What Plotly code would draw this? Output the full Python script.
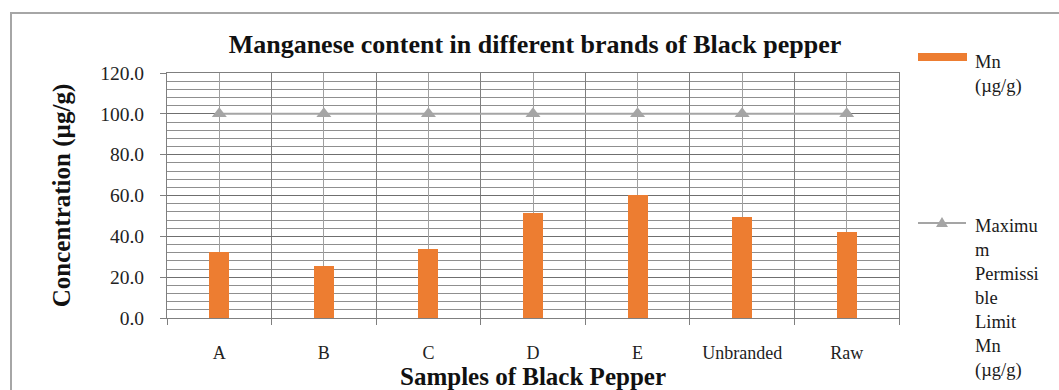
import plotly.graph_objects as go

# Sample data: manganese content per black-pepper sample
samples = ["A", "B", "C", "D", "E", "Unbranded", "Raw"]
mn_values = [32.5, 25.6, 33.8, 51.2, 60.3, 49.6, 42.3]
max_limit = [100.0, 100.0, 100.0, 100.0, 100.0, 100.0, 100.0]

bar_name = "Mn<br>(µg/g)"
line_name = "Maximu<br>m<br>Permissi<br>ble<br>Limit<br>Mn<br>(µg/g)"

ORANGE = "#ED7D31"
GREY = "#A5A5A5"
SERIF = "Liberation Serif, Times New Roman, serif"

# Canvas and plot-area geometry in pixels
W, H = 1059, 390
L, R, T, B = 167, 899, 73, 318


def px(xp):
    return (xp - L) / (R - L)


def py(yp):
    return (B - yp) / (B - T)


fig = go.Figure()

fig.add_trace(go.Bar(
    x=samples, y=mn_values, name=bar_name,
    marker=dict(color=ORANGE, line=dict(width=0)),
    width=0.19, showlegend=False,
))

fig.add_trace(go.Scatter(
    x=samples, y=max_limit, name=line_name,
    mode="lines+markers", xaxis="x2",
    line=dict(color=GREY, width=2),
    marker=dict(symbol="triangle-up", size=13, color=GREY),
    showlegend=False,
))

# Hand-drawn legend on the right
legend_shapes = [
    dict(type="rect", xref="paper", yref="paper",
         x0=px(11), x1=px(1075), y0=py(400), y1=py(13),
         line=dict(color="#A6A6A6", width=2), fillcolor="rgba(0,0,0,0)", layer="below"),
    dict(type="rect", xref="paper", yref="paper",
         x0=px(918), x1=px(967), y0=py(61), y1=py(53),
         line=dict(width=0), fillcolor=ORANGE),
    dict(type="line", xref="paper", yref="paper",
         x0=px(918), x1=px(966), y0=py(223), y1=py(223),
         line=dict(color=GREY, width=2)),
    dict(type="path", xref="paper", yref="paper",
         xsizemode="pixel", ysizemode="pixel",
         xanchor=px(942), yanchor=py(223),
         path="M-6,-4 L6,-4 L0,6 Z", fillcolor=GREY, line=dict(width=0)),
]

legend_text = [
    dict(xref="paper", yref="paper", x=px(973), y=py(50), xanchor="left", yanchor="top",
         text=bar_name, showarrow=False, align="left",
         font=dict(family=SERIF, size=18.5, color="#1a1a1a")),
    dict(xref="paper", yref="paper", x=px(973), y=py(214), xanchor="left", yanchor="top",
         text=line_name, showarrow=False, align="left",
         font=dict(family=SERIF, size=18.5, color="#1a1a1a")),
]

fig.update_layout(
    width=W, height=H,
    margin=dict(l=L, r=W - R, t=T, b=H - B, pad=0, autoexpand=False),
    paper_bgcolor="white", plot_bgcolor="white",
    bargap=0,
    title=dict(
        text="<b>Manganese content in different brands of Black pepper</b>",
        x=535 / W, y=1 - 44 / H, xref="container", yref="container",
        xanchor="center", yanchor="middle",
        font=dict(family=SERIF, size=26, color="#111111"),
    ),
    xaxis=dict(
        type="category", categoryorder="array", categoryarray=samples,
        range=[-0.5, len(samples) - 0.5], automargin=False,
        tickson="boundaries", ticks="outside", ticklen=6, tickcolor="#7F7F7F",
        showgrid=True, gridcolor="#7F7F7F", gridwidth=1,
        showline=True, linecolor="#7F7F7F", linewidth=1, mirror=True,
        tickfont=dict(family=SERIF, size=18, color="#222222"),
        ticklabelstandoff=18,
        title=dict(text="<b>Samples of Black Pepper</b>", standoff=6,
                   font=dict(family=SERIF, size=25, color="#111111")),
    ),
    xaxis2=dict(
        type="category", categoryorder="array", categoryarray=samples,
        overlaying="x", anchor="y", side="bottom", automargin=False,
        range=[-0.5, len(samples) - 0.5],
        showgrid=True, gridcolor="#A0A0A0", gridwidth=1,
        showticklabels=False, ticks="", showline=False, zeroline=False,
    ),
    yaxis=dict(
        range=[0, 120], dtick=20, tickformat=".1f", automargin=False,
        ticks="outside", ticklen=6, tickcolor="#7F7F7F",
        showgrid=True, gridcolor="#6F6F6F", gridwidth=1,
        minor=dict(dtick=4, showgrid=True, gridcolor="#8F8F8F", gridwidth=1, ticks=""),
        showline=True, linecolor="#7F7F7F", linewidth=1, mirror=True,
        zeroline=False,
        tickfont=dict(family=SERIF, size=19.5, color="#222222"),
        ticklabelstandoff=12,
        title=dict(text="<b>Concentration (µg/g)</b>", standoff=22,
                   font=dict(family=SERIF, size=25, color="#111111")),
    ),
    shapes=legend_shapes,
    annotations=legend_text,
)

fig.write_html("out.html")
